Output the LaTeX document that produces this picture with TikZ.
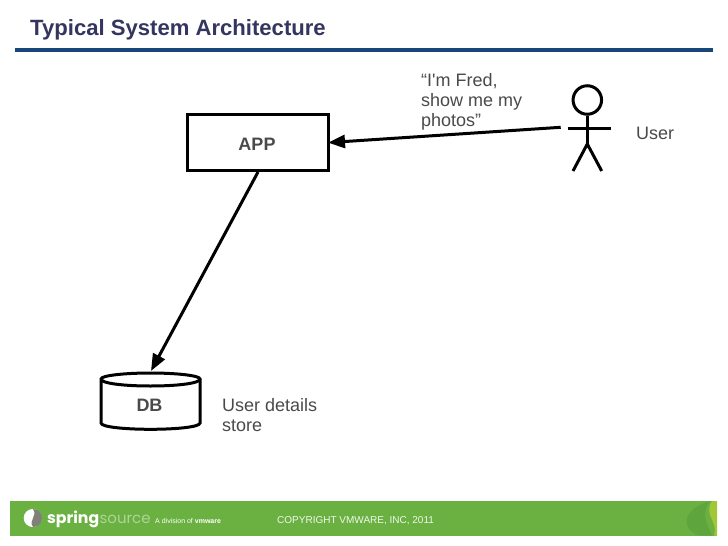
\documentclass[tikz,border=0pt]{standalone}
\usepackage{fontspec}
\setmainfont{Liberation Sans}
\newfontfamily\logofont{Poppins}
\usetikzlibrary{arrows.meta}
\definecolor{titleblue}{HTML}{343660}
\definecolor{rulec}{HTML}{17477A}
\definecolor{labelgray}{HTML}{4A4A4A}
\definecolor{springgreen}{HTML}{6BB142}
\definecolor{leafdark}{HTML}{5EA53E}
\definecolor{leaflight}{HTML}{A2C636}
\definecolor{logogray}{HTML}{7F8178}
\tikzset{
  lbl/.style={font=\fontsize{18}{20}\selectfont,text=labelgray,align=left,inner sep=0pt},
  bold lbl/.style={lbl,font=\fontsize{18}{20}\selectfont\bfseries},
  wire/.style={line width=3pt,black},
  conn/.style={line width=3pt,black,-{Triangle[length=17pt,width=13pt]}},
}
\begin{document}
\begin{tikzpicture}[x=1pt,y=-1pt]
\useasboundingbox (0,0) rectangle (728,546);
\fill[white] (0,0) rectangle (728,546);
\node[anchor=base west,inner sep=0pt,text=titleblue,font=\fontsize{22.1}{24}\selectfont\bfseries] (title) at (30,35) {Typical System Architecture};
\fill[rulec] (15,48) rectangle (713,52);
% APP
\node[draw=black,line width=3pt,minimum width=141pt,minimum height=56pt,inner sep=0pt] (app) at (258,142.5) {};
\node[bold lbl,anchor=base] (applbl) at (257,150.5) {APP};
% actor
\node[draw=black,line width=3pt,circle,minimum size=28.5pt,inner sep=0pt] (head) at (587.3,100) {};
\coordinate (hip) at (587.3,144);
\coordinate (armL) at (567.7,128.7);
\coordinate (armR) at (610.7,128.7);
\coordinate (footL) at (573,171);
\coordinate (footR) at (601.7,171);
\draw[wire] (head.south) -- (hip);
\draw[wire] (armL) -- (armR);
\draw[wire] (footL) -- (hip) -- (footR);
\coordinate (userout) at (560.7,127.3);
\node[lbl,anchor=base west] (user) at (636,139) {User};
\node[lbl,anchor=north west] (say) at (421,73.5) {“I\textquotesingle m Fred,\\show me my\\photos”};
% DB
\coordinate (dbN) at (151,371);
\draw[wire,fill=white] (101,379) .. controls (101,375.5) and (125,373) .. (150.5,373) .. controls (176,373) and (200,375.5) .. (200,379) -- (200,423) .. controls (200,427) and (176,429.3) .. (150.5,429.3) .. controls (125,429.3) and (101,427) .. (101,423) -- cycle;
\draw[wire] (101,379) .. controls (101,383.5) and (125,386) .. (150.5,386) .. controls (176,386) and (200,383.5) .. (200,379);
\node[bold lbl,anchor=base] (dblbl) at (149.5,411) {DB};
\node[lbl,anchor=north west] (store) at (222,398) {User details\\store};
% connectors
\draw[conn,shorten >=-2pt] (userout) -- (app.east);
\draw[conn] (app.south) -- (dbN);
% footer
\fill[springgreen] (10,500.7) rectangle (717,535.7);
\fill[white] (32.7,518) circle (9pt);
\fill[logogray] (33,509) .. controls (45,509) and (45,527) .. (33,527) .. controls (28,520) and (38,516) .. (33,509) -- cycle;
\node[anchor=base west,inner sep=0pt,text=white,font=\logofont\fontsize{15.7}{18}\selectfont\bfseries] (spring) at (47,523) {spring};
\node[anchor=base west,inner sep=0pt,text=white!45!springgreen,font=\logofont\fontsize{15}{18}\selectfont] (source) at (spring.base east) {source};
\node[anchor=base west,inner sep=0pt,text=white,font=\fontsize{7}{8}\selectfont] (div) at (155,523) {A division of \textbf{vmware}};
\node[anchor=base west,inner sep=0pt,text=white!90!springgreen,font=\fontsize{10}{12}\selectfont] (copy) at (277,523) {COPYRIGHT VMWARE, INC, 2011};
\fill[leafdark] (710,501) .. controls (695,505) and (684,515) .. (687,525) .. controls (689,531) and (694,534.5) .. (700,535.7) -- (712,535.7) .. controls (708,525) and (700,515) .. (710,501);
\fill[leaflight] (712,501) -- (717,501) -- (717,535.7) -- (714,535.7) .. controls (719,522) and (703,515) .. (712,501);
\end{tikzpicture}
\end{document}
